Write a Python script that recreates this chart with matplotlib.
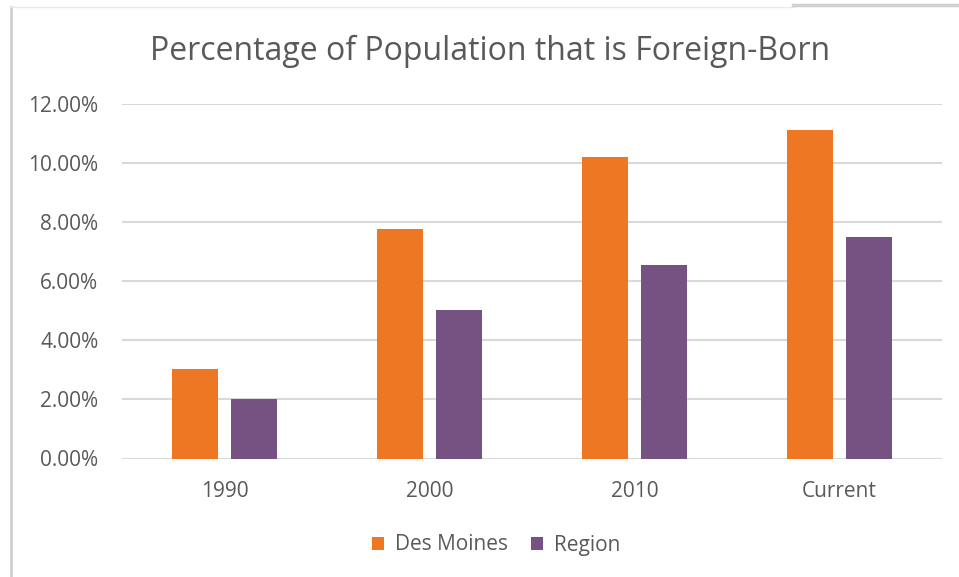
import matplotlib.pyplot as plt
import numpy as np
from matplotlib.lines import Line2D
from matplotlib.ticker import PercentFormatter

plt.rcParams['font.family'] = ['Open Sans', 'DejaVu Sans']

years = ['1990', '2000', '2010', 'Current']
des_moines = [3.03, 7.78, 10.22, 11.14]
region = [2.0, 5.03, 6.56, 7.52]

orange = '#ED7722'
purple = '#765283'
text_col = '#595959'
grid_col = '#D9D9D9'

fig = plt.figure(figsize=(9.59, 5.77), dpi=100)
ax = fig.add_axes([122/959, 1 - 458.5/577, 820/959, (458.5 - 104.3)/577])

x = np.arange(len(years))
w = 0.223
ax.bar(x - 0.144, des_moines, w, color=orange, label='Des Moines', zorder=3)
ax.bar(x + 0.144, region, w, color=purple, label='Region', zorder=3)

ax.set_xlim(-0.5, 3.5)
ax.set_ylim(0, 12)
ax.set_yticks(np.arange(0, 13, 2))
ax.yaxis.set_major_formatter(PercentFormatter(decimals=2))
ax.set_xticks(x)
ax.set_xticklabels(years)
ax.grid(axis='y', color=grid_col, linewidth=1.5, zorder=0)
for s in ax.spines.values():
    s.set_visible(False)
ax.tick_params(length=0, colors=text_col, labelsize=15)
ax.tick_params(axis='y', pad=17)
ax.tick_params(axis='x', pad=16)

fig.text(490/959, 1 - 51/577, 'Percentage of Population that is Foreign-Born',
         ha='center', va='center', fontsize=23, color=text_col)

leg = fig.legend(loc='center', bbox_to_anchor=(496/959, 1 - 545/577), ncol=2,
                 frameon=False, fontsize=15, handlelength=0.6, handleheight=0.6,
                 handletextpad=0.5, columnspacing=1.1)
for t in leg.get_texts():
    t.set_color(text_col)

# outer frame pieces
fig.add_artist(Line2D([11/959, 11/959], [0, 1 - 7/577], color='#D0D0D0', lw=2))
fig.add_artist(Line2D([10/959, 795/959], [1 - 7/577, 1 - 7/577], color='#EBEBEB', lw=1))
fig.add_artist(Line2D([793/959, 1], [1 - 4.5/577, 1 - 4.5/577], color='#D0D0D0', lw=2.5))

fig.savefig('out.png', dpi=100)
